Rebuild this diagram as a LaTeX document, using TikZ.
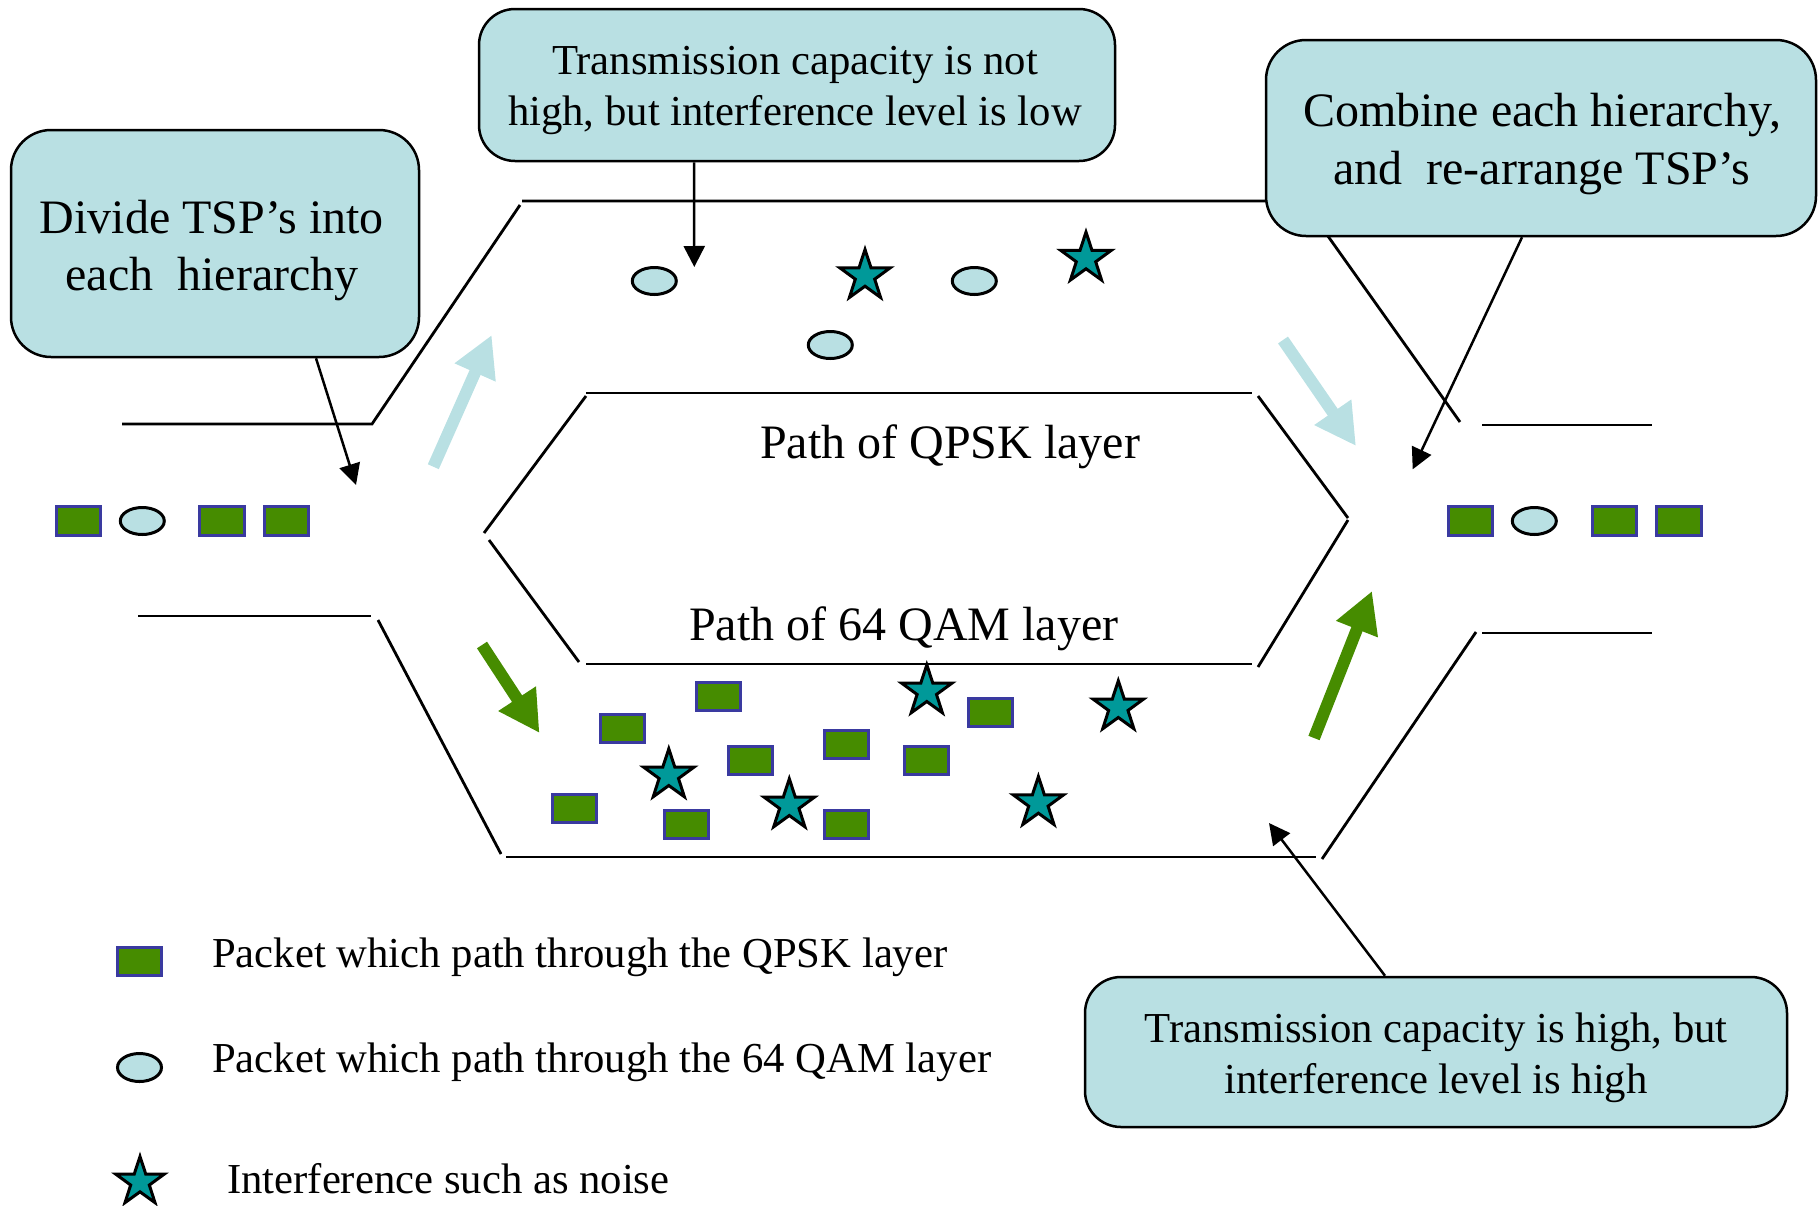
\documentclass[tikz,border=0pt]{standalone}
\usepackage{fontspec}
\setmainfont{Liberation Serif}
\usetikzlibrary{arrows.meta,shapes.geometric}

\definecolor{boxfill}{RGB}{185,224,227}
\definecolor{pktgreen}{RGB}{70,140,0}
\definecolor{pktedge}{RGB}{58,58,160}
\definecolor{noisefill}{RGB}{0,153,153}

\tikzset{
  wall/.style={line width=2.8pt},
  callout/.style={draw=black, line width=2.5pt, fill=boxfill, rounded corners=40pt, inner sep=0pt},
  bigtext/.style={align=center, inner sep=0pt, font=\fontsize{48}{57.6}\selectfont},
  midtext/.style={align=center, inner sep=0pt, font=\fontsize{42.7}{51.2}\selectfont},
  qpsk/.style={rectangle, draw=pktedge, fill=pktgreen, line width=3pt,
    minimum width=44.5pt, minimum height=28.5pt, inner sep=0pt},
  qam/.style={ellipse, draw=black, fill=boxfill, line width=3pt,
    minimum width=44pt, minimum height=27pt, inner sep=0pt},
  noise/.style={star, star points=5, star point ratio=2.6, draw=black, fill=noisefill,
    line width=3pt, minimum size=53pt, inner sep=0pt},
  pointer/.style={line width=2.5pt, -{Triangle[length=21pt,width=21pt]}},
  flow/.style={line width=12pt, -{Triangle[length=41pt,width=42pt]}},
}

\begin{document}
\begin{tikzpicture}[x=1pt, y=-1pt]
\useasboundingbox (0,0) rectangle (1818,1205);

% outer channel walls
\draw[wall] (122,424) -- (372,424) -- (520,205);
\draw[wall] (522,201) -- (1303,201) -- (1460,422);
\draw[wall] (1482,425) -- (1652,425);
\draw[wall] (138,616) -- (371,616);
\draw[wall] (378,620) -- (501,854);
\draw[wall] (506,857) -- (1316,857);
\draw[wall] (1322,859) -- (1476,632);
\draw[wall] (1482,633) -- (1652,633);

% inner hexagon separating the two layers
\draw[wall] (586,393) -- (1252,393);
\draw[wall] (586,396) -- (484,533);
\draw[wall] (489,540) -- (579,662);
\draw[wall] (586,664) -- (1252,664);
\draw[wall] (1258,396) -- (1348,518);
\draw[wall] (1348,520) -- (1258,667);

% layer captions
\node[bigtext, anchor=base west] (qpsktxt) at (760,458) {Path of QPSK layer};
\node[bigtext, anchor=base west] (qamtxt) at (689,640) {Path of 64 QAM layer};

% callout boxes
\node[callout, minimum width=408pt, minimum height=227pt] (b1) at (215,243.5) {};
\node[bigtext] (b1t) at (212,250.7) {Divide TSP’s into\\each~~hierarchy};

\node[callout, rounded corners=36pt, minimum width=636pt, minimum height=152pt] (b2) at (797,85) {};
\node[midtext] (b2t) at (795,90.7) {Transmission capacity is not\\high, but interference level is low};

\node[callout, minimum width=550pt, minimum height=196pt] (b3) at (1541,138) {};
\node[bigtext] (b3t) at (1542,144.3) {Combine each hierarchy,\\and~~re-arrange TSP’s};

\node[callout, rounded corners=36pt, minimum width=702pt, minimum height=150pt] (b4) at (1436,1052) {};
\node[midtext] (b4t) at (1436,1058) {Transmission capacity is high, but\\interference level is high};

% incoming packet stream
\node[qpsk] (l1) at (78.3,521) {};
\node[qam]  (l2) at (142.3,521) {};
\node[qpsk] (l3) at (222.2,521) {};
\node[qpsk] (l4) at (286.3,521) {};

% re-arranged packet stream
\node[qpsk] (r1) at (1470.5,521) {};
\node[qam]  (r2) at (1534.3,521) {};
\node[qpsk] (r3) at (1614.5,521) {};
\node[qpsk] (r4) at (1678.8,521) {};

% QPSK layer contents
\node[qam] (ua) at (654.3,281) {};
\node[qam] (ub) at (974.3,281) {};
\node[qam] (uc) at (830.3,345) {};
\node[noise] (us1) at (865,276) {};
\node[noise] (us2) at (1086,258.6) {};

% 64 QAM layer contents
\node[qpsk] (q1) at (718.5,696.7) {};
\node[qpsk] (q2) at (622.6,728.7) {};
\node[qpsk] (q3) at (750.3,760.7) {};
\node[qpsk] (q4) at (846.4,744.7) {};
\node[qpsk] (q5) at (926.6,760.7) {};
\node[qpsk] (q6) at (990.4,712.7) {};
\node[qpsk] (q7) at (574.4,808.7) {};
\node[qpsk] (q8) at (686.6,824.7) {};
\node[qpsk] (q9) at (846.4,824.7) {};
\node[noise] (ls1) at (926.8,691.3) {};
\node[noise] (ls2) at (1118.3,707.3) {};
\node[noise] (ls3) at (668.8,775.3) {};
\node[noise] (ls4) at (789.3,805.3) {};
\node[noise] (ls5) at (1038.4,803) {};

% flow arrows into and out of the layers
\coordinate (fa0) at (433.3,466.7); \coordinate (fa1) at (491.7,335);
\coordinate (fb0) at (1283,340);    \coordinate (fb1) at (1356,446);
\coordinate (fc0) at (482,645);     \coordinate (fc1) at (539.5,733);
\coordinate (fd0) at (1314,738);    \coordinate (fd1) at (1372,591);
\draw[flow, draw=boxfill, fill=boxfill] (fa0) -- (fa1);
\draw[flow, draw=boxfill, fill=boxfill] (fb0) -- (fb1);
\draw[flow, draw=pktgreen, fill=pktgreen] (fc0) -- (fc1);
\draw[flow, draw=pktgreen, fill=pktgreen] (fd0) -- (fd1);

% callout pointers
\coordinate (p1) at (356,485);
\coordinate (p2) at (694.3,267);
\coordinate (p3) at (1412.7,469.3);
\coordinate (p4) at (1269,823);
\draw[pointer] ([xshift=101pt]b1.south) -- (p1);
\draw[pointer] ([xshift=-103pt]b2.south) -- (p2);
\draw[pointer] ([xshift=-19pt]b3.south) -- (p3);
\draw[pointer] ([xshift=-51pt]b4.north) -- (p4);

% legend
\node[qpsk, minimum width=44pt, minimum height=28pt] (k1) at (139.5,961.5) {};
\node[qam, minimum width=44pt, minimum height=28pt] (k2) at (139.5,1067.5) {};
\node[noise, minimum size=51pt] (k3) at (140,1182) {};
\node[midtext, anchor=base west] (k1t) at (212,967) {Packet which path through the QPSK layer};
\node[midtext, anchor=base west] (k2t) at (212,1072) {Packet which path through the 64 QAM layer};
\node[midtext, anchor=base west] (k3t) at (227,1193) {Interference such as noise};
\end{tikzpicture}
\end{document}
